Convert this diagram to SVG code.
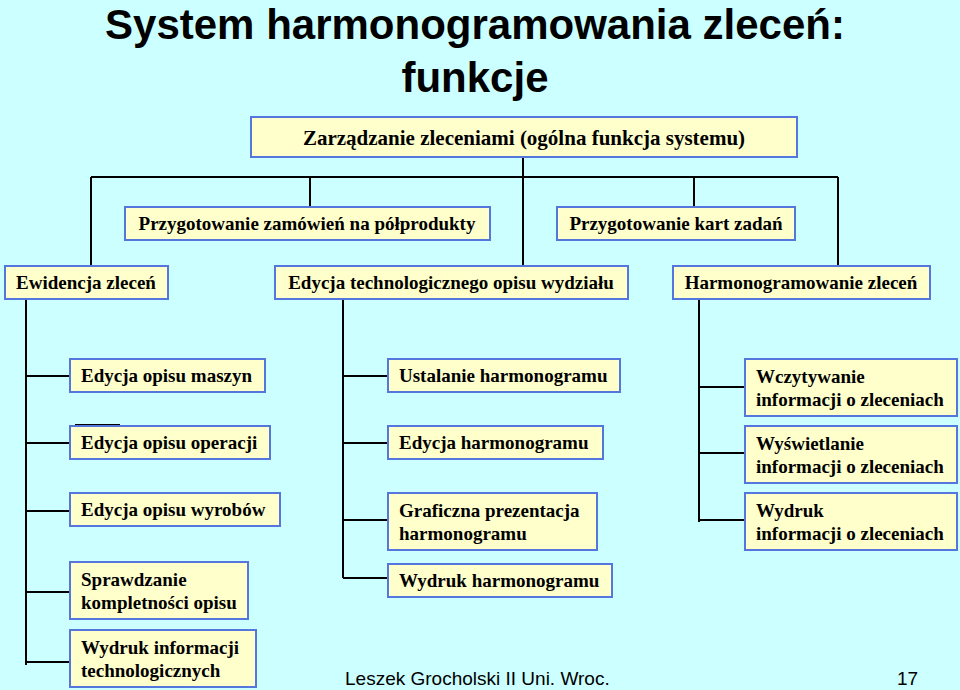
<svg xmlns="http://www.w3.org/2000/svg" width="960" height="690" viewBox="0 0 960 690">
<style>
.b{fill:#FFFFCC;stroke:#5577DD;stroke-width:2}
.t{font-family:'Liberation Serif','Times New Roman',serif;font-size:19px;font-weight:bold;fill:#000}
.big{font-size:21px}
.c{stroke:#000;stroke-width:2;fill:none}
.s{font-family:'Liberation Sans',Arial,sans-serif}
</style>
<rect width="960" height="690" fill="#CCFFFF"/>
<text class="s" x="475" y="39" text-anchor="middle" font-size="42" font-weight="bold">System harmonogramowania zleceń:</text>
<text class="s" x="475" y="92" text-anchor="middle" font-size="42" font-weight="bold">funkcje</text>
<g id="connectors" class="c">
<path d="M523 150V265M91 177H838M91 177V265M310 177V207M694 177V207M838 177V265"/>
<path d="M26 299V665M26 376H70M26 443H70M26 511H70M26 592H70M26 662H70M75 425H120"/>
<path d="M343 300V578M343 376H388M343 443H388M343 520H388M343 578H388"/>
<path d="M699 300V522M699 387H745M699 453H745M699 520H745"/>
</g>
<g id="n0"><rect class="b" x="251" y="117" width="546" height="40"/><text class="t big" x="524" y="145" text-anchor="middle">Zarządzanie zleceniami (ogólna funkcja systemu)</text></g>
<g id="n1"><rect class="b" x="125" y="207" width="365" height="33"/><text class="t" x="307" y="230" text-anchor="middle">Przygotowanie zamówień na półprodukty</text></g>
<g id="n2"><rect class="b" x="557" y="207" width="238" height="33"/><text class="t" x="676" y="230" text-anchor="middle">Przygotowanie kart zadań</text></g>
<g id="n3"><rect class="b" x="5" y="266" width="163" height="33"/><text class="t" x="86" y="289" text-anchor="middle">Ewidencja zleceń</text></g>
<g id="n4"><rect class="b" x="275" y="266" width="353" height="33"/><text class="t" x="451" y="289" text-anchor="middle">Edycja technologicznego opisu wydziału</text></g>
<g id="n5"><rect class="b" x="673" y="266" width="257" height="33"/><text class="t" x="801" y="289" text-anchor="middle">Harmonogramowanie zleceń</text></g>
<g id="n6"><rect class="b" x="70" y="359" width="195" height="33"/><text class="t" x="81" y="382">Edycja opisu maszyn</text></g>
<g id="n7"><rect class="b" x="70" y="426" width="200" height="33"/><text class="t" x="81" y="449">Edycja opisu operacji</text></g>
<g id="n8"><rect class="b" x="70" y="493" width="210" height="33"/><text class="t" x="81" y="516">Edycja opisu wyrobów</text></g>
<g id="n9"><rect class="b" x="70" y="562" width="178" height="57"/><text class="t" x="81" y="586">Sprawdzanie</text><text class="t" x="81" y="609">kompletności opisu</text></g>
<g id="n10"><rect class="b" x="70" y="630" width="186" height="57"/><text class="t" x="81" y="654">Wydruk informacji</text><text class="t" x="81" y="677">technologicznych</text></g>
<g id="n11"><rect class="b" x="388" y="359" width="232" height="33"/><text class="t" x="399" y="382">Ustalanie harmonogramu</text></g>
<g id="n12"><rect class="b" x="388" y="426" width="215" height="33"/><text class="t" x="399" y="449">Edycja harmonogramu</text></g>
<g id="n13"><rect class="b" x="388" y="493" width="209" height="57"/><text class="t" x="399" y="517">Graficzna prezentacja</text><text class="t" x="399" y="540">harmonogramu</text></g>
<g id="n14"><rect class="b" x="388" y="564" width="224" height="33"/><text class="t" x="399" y="587">Wydruk harmonogramu</text></g>
<g id="n15"><rect class="b" x="745" y="359" width="212" height="57"/><text class="t" x="756" y="383">Wczytywanie</text><text class="t" x="756" y="406">informacji o zleceniach</text></g>
<g id="n16"><rect class="b" x="745" y="426" width="212" height="57"/><text class="t" x="756" y="450">Wyświetlanie</text><text class="t" x="756" y="473">informacji o zleceniach</text></g>
<g id="n17"><rect class="b" x="745" y="493" width="212" height="57"/><text class="t" x="756" y="517">Wydruk</text><text class="t" x="756" y="540">informacji o zleceniach</text></g>
<text class="s" x="345" y="685" font-size="19">Leszek Grocholski II Uni. Wroc.</text>
<text class="s" x="897" y="685" font-size="19">17</text>
</svg>
